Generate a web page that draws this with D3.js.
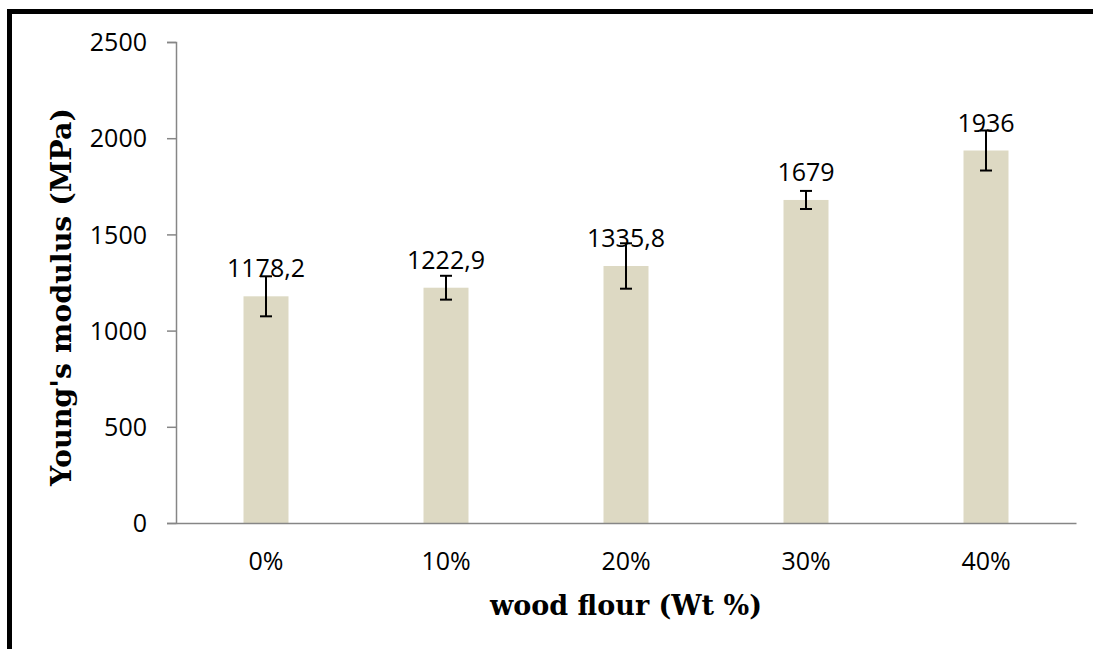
<!DOCTYPE html>
<html lang="en">

<head>
    <meta charset="UTF-8">
    <title>Young's modulus - wood flour</title>
    <script src="https://d3js.org/d3.v7.min.js"></script>
    <style>
        body {
            margin: 0;
            background: #ffffff;
        }

        .tick-label {
            font-family: "Open Sans", sans-serif;
            font-size: 25px;
            fill: #000000;
        }

        .axis-title {
            font-family: "DejaVu Serif", serif;
            font-weight: bold;
            fill: #000000;
        }
    </style>
</head>

<body>
    <svg id="chart" width="1093" height="649"></svg>
    <script>
        // data
        let categories = ["0%", "10%", "20%", "30%", "40%"]
        let values = [1178.2, 1222.9, 1335.8, 1679, 1936]
        let valueLabels = ["1178,2", "1222,9", "1335,8", "1679", "1936"]
        let errors = [104, 62, 118, 47, 104]
        let yTicks = [0, 500, 1000, 1500, 2000, 2500]

        let bar_color = "#DDD9C3"
        let axis_color = "#868686"

        let svg = d3.select("#chart")

        // frame: only left and top edges are visible
        svg.append("path")
            .attr("d", "M9.5,649V11.5H1093")
            .attr("fill", "none")
            .attr("stroke", "#000")
            .attr("stroke-width", 5)

        let x = d3.scaleBand().domain(categories).range([176, 1076])
        let y = d3.scaleLinear().domain([0, 2500]).range([523, 42])
        let barWidth = 45

        let rows = categories.map((c, i) => ({ cat: c, value: values[i], label: valueLabels[i], err: errors[i] }))

        // bars
        svg.append("g").selectAll("rect")
            .data(rows)
            .enter()
            .append("rect")
            .attr("x", d => x(d.cat) + x.bandwidth() / 2 - barWidth / 2)
            .attr("y", d => y(d.value))
            .attr("width", barWidth)
            .attr("height", d => y(0) - y(d.value))
            .attr("fill", bar_color)

        // y axis
        let yAxis = svg.append("g")
            .attr("transform", "translate(176,0)")
            .call(d3.axisLeft(y).tickValues(yTicks).tickSize(9).tickPadding(20).tickFormat(d3.format("d")))
        yAxis.select(".domain").attr("stroke", axis_color).attr("stroke-width", 1.5)
        yAxis.selectAll(".tick line").attr("stroke", axis_color).attr("stroke-width", 1.5)
        yAxis.selectAll(".tick text").attr("class", "tick-label").attr("dy", "0.35em")

        // x axis
        let xAxis = svg.append("g")
            .attr("transform", "translate(0,523)")
            .call(d3.axisBottom(x).tickSize(0).tickPadding(29))
        xAxis.select(".domain").attr("stroke", axis_color).attr("stroke-width", 1.5)
        xAxis.selectAll(".tick text").attr("class", "tick-label")

        // error bars
        let eb = svg.append("g").selectAll("g")
            .data(rows)
            .enter()
            .append("g")
            .attr("stroke", "#000")
            .attr("stroke-width", 2)
        eb.append("line")
            .attr("x1", d => x(d.cat) + x.bandwidth() / 2)
            .attr("x2", d => x(d.cat) + x.bandwidth() / 2)
            .attr("y1", d => y(d.value + d.err))
            .attr("y2", d => y(d.value - d.err))
        eb.append("line")
            .attr("x1", d => x(d.cat) + x.bandwidth() / 2 - 6)
            .attr("x2", d => x(d.cat) + x.bandwidth() / 2 + 6)
            .attr("y1", d => y(d.value + d.err))
            .attr("y2", d => y(d.value + d.err))
        eb.append("line")
            .attr("x1", d => x(d.cat) + x.bandwidth() / 2 - 6)
            .attr("x2", d => x(d.cat) + x.bandwidth() / 2 + 6)
            .attr("y1", d => y(d.value - d.err))
            .attr("y2", d => y(d.value - d.err))

        // value labels
        svg.append("g").selectAll("text")
            .data(rows)
            .enter()
            .append("text")
            .attr("class", "tick-label")
            .attr("text-anchor", "middle")
            .attr("x", d => x(d.cat) + x.bandwidth() / 2)
            .attr("y", d => y(d.value) - 19)
            .text(d => d.label)

        // axis titles
        svg.append("text")
            .attr("class", "axis-title")
            .attr("font-size", 27)
            .attr("text-anchor", "middle")
            .attr("x", 626)
            .attr("y", 615)
            .text("wood flour (Wt %)")

        svg.append("text")
            .attr("class", "axis-title")
            .attr("font-size", 28.5)
            .attr("text-anchor", "middle")
            .attr("transform", "translate(71,297) rotate(-90)")
            .text("Young's modulus (MPa)")
    </script>
</body>

</html>
